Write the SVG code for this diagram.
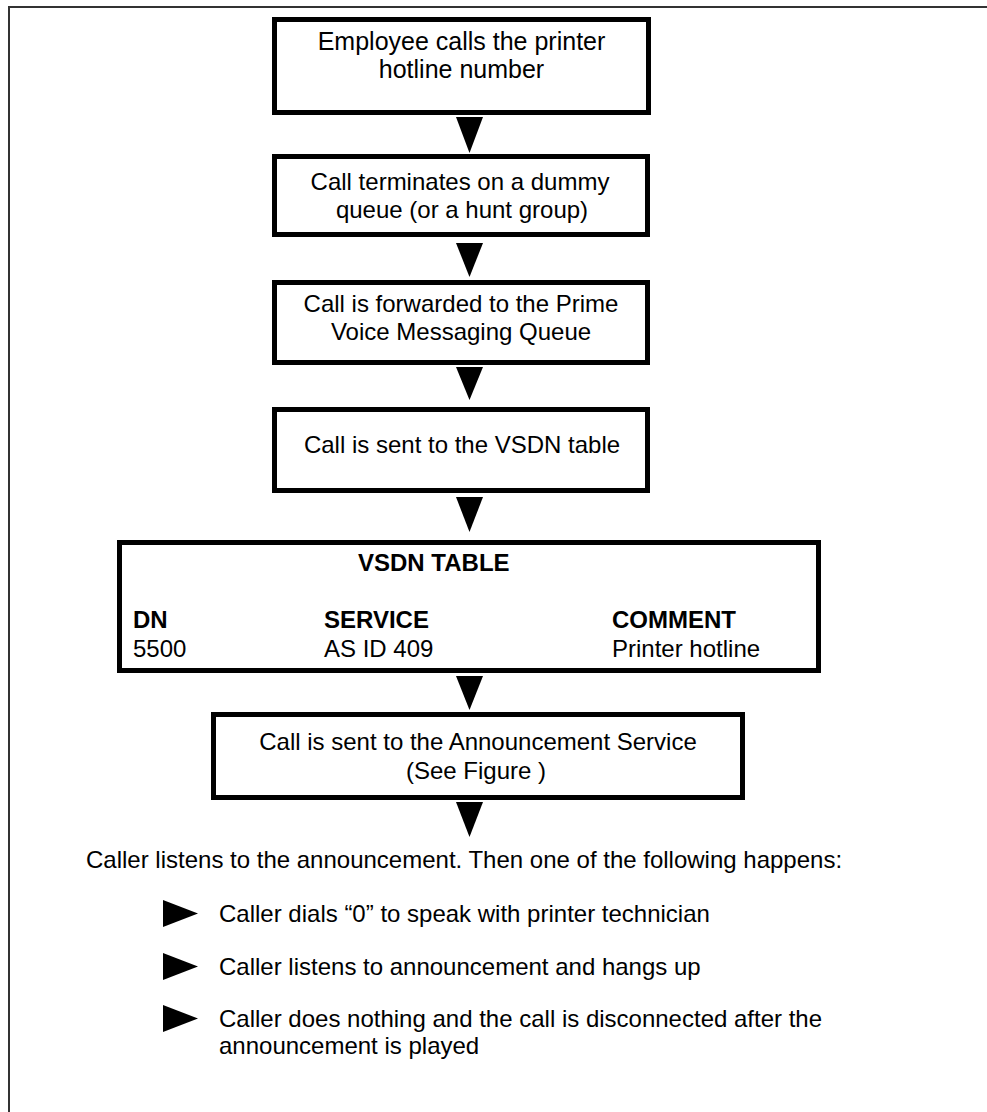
<svg xmlns="http://www.w3.org/2000/svg" width="987" height="1112" viewBox="0 0 987 1112">
<style>
.box{fill:#fff;stroke:#000;stroke-width:5}
.t{font-family:"Liberation Sans",Arial,sans-serif;font-size:24px;fill:#000}
.big{font-size:25px}
.c{text-anchor:middle}
.b{font-weight:bold}
.arr{fill:#000}
.frame{stroke:#333;stroke-width:2;fill:none}
</style>
<rect width="987" height="1112" fill="#fff"/>
<path class="frame" d="M9 1112 V7 H987"/>
<g id="n1">
<rect class="box" x="274.5" y="19.5" width="374" height="93"/>
<text class="t big c" x="461.5" y="50">Employee calls the printer</text>
<text class="t big c" x="461.5" y="78">hotline number</text>
</g>
<g id="n2">
<rect class="box" x="274.5" y="156.5" width="373" height="78"/>
<text class="t c" x="460" y="190">Call terminates on a dummy</text>
<text class="t c" x="462" y="218">queue (or a hunt group)</text>
</g>
<g id="n3">
<rect class="box" x="274.5" y="282.5" width="373" height="80"/>
<text class="t c" x="461" y="312">Call is forwarded to the Prime</text>
<text class="t c" x="461" y="340">Voice Messaging Queue</text>
</g>
<g id="n4">
<rect class="box" x="274.5" y="409.5" width="373" height="81"/>
<text class="t c" x="462" y="453">Call is sent to the VSDN table</text>
</g>
<g id="n5">
<rect class="box" x="119.5" y="542.5" width="699" height="128"/>
<text class="t b" x="358" y="571">VSDN TABLE</text>
<text class="t b" x="133" y="628">DN</text>
<text class="t b" x="324" y="628">SERVICE</text>
<text class="t b" x="612" y="628">COMMENT</text>
<text class="t" x="133" y="657">5500</text>
<text class="t" x="324" y="657">AS ID 409</text>
<text class="t" x="612" y="657">Printer hotline</text>
</g>
<g id="n6">
<rect class="box" x="213.5" y="714.5" width="529" height="83"/>
<text class="t c" x="478" y="750">Call is sent to the Announcement Service</text>
<text class="t c" x="476" y="779">(See Figure )</text>
</g>
<g id="connectors">
<polygon class="arr" points="456,117 483,117 469.5,153"/>
<polygon class="arr" points="456,243 483,243 469.5,277"/>
<polygon class="arr" points="456,367 483,367 469.5,400"/>
<polygon class="arr" points="456,497 483,497 469.5,532"/>
<polygon class="arr" points="456,676 483,676 469.5,710"/>
<polygon class="arr" points="456,802 483,802 469.5,837"/>
</g>
<g id="outcomes">
<text class="t" x="86" y="868">Caller listens to the announcement. Then one of the following happens:</text>
<polygon class="arr" points="163,900 163,927 198,913.5"/>
<text class="t" x="219" y="922">Caller dials “0” to speak with printer technician</text>
<polygon class="arr" points="163,953 163,980 198,966.5"/>
<text class="t" x="219" y="975">Caller listens to announcement and hangs up</text>
<polygon class="arr" points="163,1005 163,1032 198,1018.5"/>
<text class="t" x="219" y="1027">Caller does nothing and the call is disconnected after the</text>
<text class="t" x="219" y="1054">announcement is played</text>
</g>
</svg>
